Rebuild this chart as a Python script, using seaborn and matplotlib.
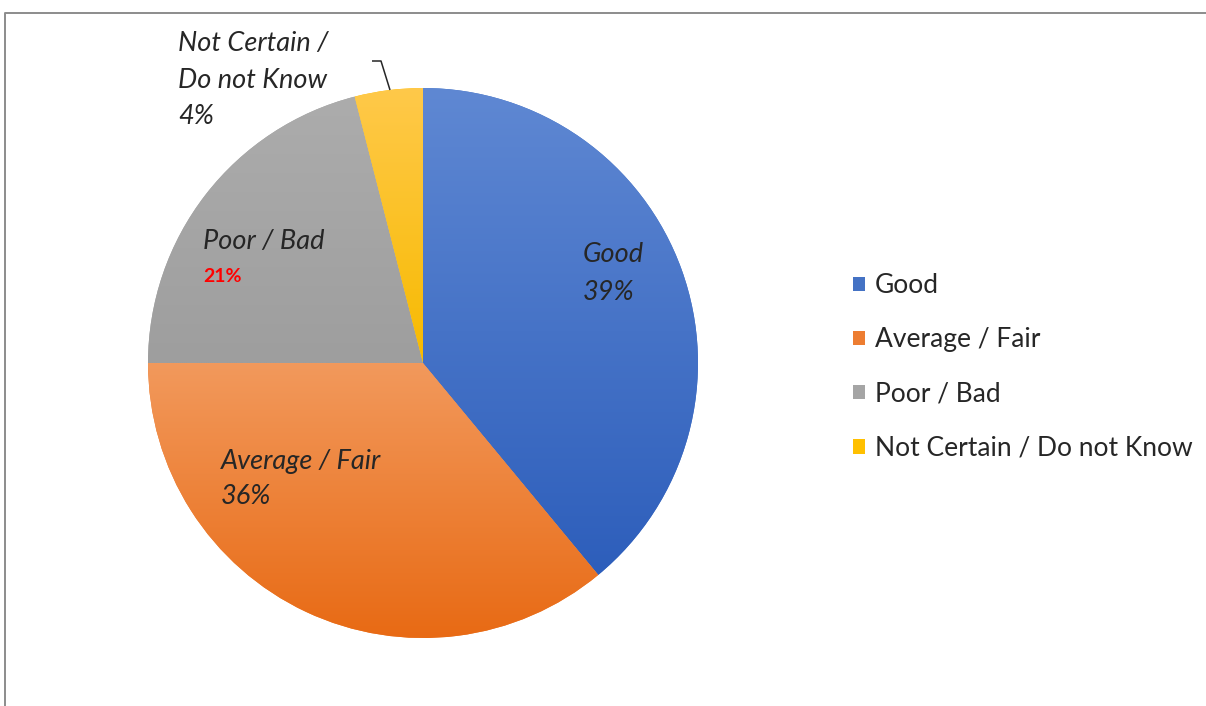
import numpy as np
import matplotlib
matplotlib.use("Agg")
import matplotlib.pyplot as plt
import seaborn as sns
from matplotlib.colors import LinearSegmentedColormap
from matplotlib.patches import Patch
from matplotlib.lines import Line2D

# Survey answer shares (percent)
categories = ["Good", "Average / Fair", "Poor / Bad", "Not Certain / Do not Know"]
shares = [39, 36, 21, 4]
label_lines = [["Good"], ["Average / Fair"], ["Poor / Bad"], ["Not Certain /", "Do not Know"]]

base_colors = ["#4472C4", "#ED7D31", "#A5A5A5", "#FFC000"]
top_colors = ["#5F88D3", "#F2995C", "#ACACAC", "#FFC94A"]
bottom_colors = ["#2D5EBB", "#E86A14", "#9E9E9E", "#F7BA00"]

sns.set_theme(style="white")
plt.rcParams["font.family"] = ["Lato", "DejaVu Sans"]

W, H = 1206, 706
fig = plt.figure(figsize=(W / 100, H / 100), dpi=100)
ax = fig.add_axes([0, 0, 1, 1])

# pixel geometry of the pie
cx, cy, R = 423, 363, 275


def to_data(x, y):
    return (x - cx) / R, (cy - y) / R


wedges, _ = ax.pie(shares, startangle=90, counterclock=False, colors=base_colors,
                   radius=1, wedgeprops=dict(linewidth=0, antialiased=True))

# vertical gradient fill for each slice
grad = np.linspace(0, 1, 256).reshape(-1, 1)
for w, c0, c1 in zip(wedges, top_colors, bottom_colors):
    ext = w.get_path().get_extents()
    cmap = LinearSegmentedColormap.from_list("g", [c0, c1])
    im = ax.imshow(grad, cmap=cmap, extent=[ext.x0, ext.x1, ext.y0, ext.y1],
                   origin="upper", aspect="auto", zorder=w.get_zorder() + 0.1,
                   interpolation="bilinear")
    im.set_clip_path(w)

ax.set_xlim(-cx / R, (W - cx) / R)
ax.set_ylim((cy - H) / R, cy / R)
ax.set_aspect("auto")
ax.axis("off")

txt_color = "#262626"
lab_kw = dict(fontsize=19.5, fontstyle="italic", color=txt_color, ha="left", va="center",
              family=["Lato", "DejaVu Sans"])

# slice labels: (x, first-line y, line step) in pixels
label_pos = [(583, 255, 38), (221, 462, 35), (203, 242, 35), (178, 44, 36)]
for i, (lines, (lx, ly, step)) in enumerate(zip(label_lines, label_pos)):
    for j, s in enumerate(lines):
        ax.text(*to_data(lx, ly + j * step), s, **lab_kw)
    py = ly + len(lines) * step
    if categories[i] == "Poor / Bad":
        ax.text(*to_data(lx, py), f"{shares[i]}%", fontsize=14, fontweight="bold",
                color="#FF0000", ha="left", va="center")
    else:
        ax.text(*to_data(lx, py), f"{shares[i]}%", **lab_kw)

# leader line for the small slice
lead = np.array([to_data(372, 61), to_data(381, 61), to_data(390, 90)])
ax.plot(lead[:, 0], lead[:, 1], color="#262626", lw=1.1, solid_capstyle="butt")

# legend
handles = [Patch(facecolor=c, edgecolor="none") for c in base_colors]
leg = fig.legend(handles, categories, loc="upper left",
                 bbox_to_anchor=(853 / W, 1 - 273 / H), frameon=False,
                 fontsize=19, handlelength=0.45, handleheight=0.45,
                 handletextpad=0.38, labelspacing=1.11, borderaxespad=0,
                 borderpad=0)
for t in leg.get_texts():
    t.set_color(txt_color)

# chart frame (top and left edges)
fig.add_artist(Line2D([5 / W, 5 / W, 1], [0, 1 - 13 / H, 1 - 13 / H],
                      color="#8C8C8C", lw=1.4, transform=fig.transFigure))

fig.savefig("out.png", dpi=100)
